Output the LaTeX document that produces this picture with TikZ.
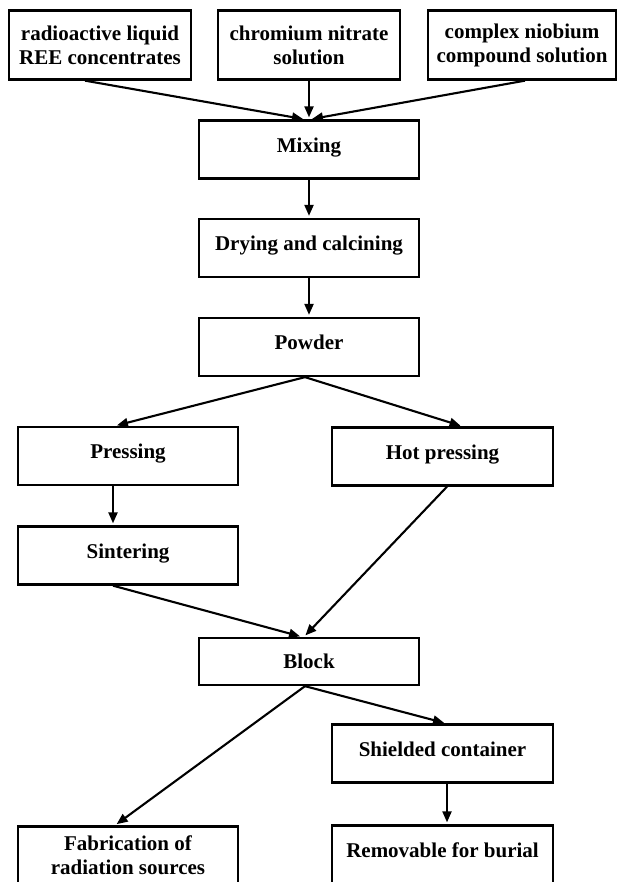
\documentclass[tikz,border=0pt]{standalone}
\usepackage{fontspec}
\setmainfont{Liberation Serif}
\usetikzlibrary{arrows.meta}

\begin{document}
\begin{tikzpicture}[x=1pt,y=-1pt,
        box/.style={draw,line width=2.3pt,align=center,inner sep=0pt,
            font=\bfseries\fontsize{21}{24}\selectfont},
        source/.style={box,minimum width=182pt,minimum height=69pt},
        stage/.style={box,minimum width=220pt,minimum height=58pt,text depth=9pt},
        flow/.style={-{Triangle[length=11pt,width=9pt]},line width=2.1pt,shorten >=2pt}]
            \useasboundingbox (0,0) rectangle (618,882);
            \node[source] (liquid) at (100,45) {radioactive liquid\\REE concentrates};
            \node[source] (nitrate) at (309,45) {chromium nitrate\\solution};
            \node[source,minimum width=188pt] (niobium) at (522,45) {complex niobium\\compound solution};
            \node[stage] (mix) at (309,149.5) {Mixing};
            \node[stage] (dry) at (309,248) {Drying and calcining};
            \node[stage] (powder) at (309,347) {Powder};
            \node[stage] (press) at (128,456) {Pressing};
            \node[stage,minimum width=221pt] (hot) at (442.5,456.5) {Hot pressing};
            \node[stage] (sinter) at (128,555.5) {Sintering};
            \node[stage,minimum height=47pt,text depth=0pt] (block) at (309,661.5) {Block};
            \node[stage,minimum width=221pt] (shield) at (442.5,753.5) {Shielded container};
            \node[stage,text depth=0pt] (fab) at (128,855.5) {Fabrication of\\radiation sources};
            \node[stage,minimum width=221pt] (burial) at (442.5,854.5) {Removable for burial};
            \draw[flow] ([xshift=-15pt]liquid.south) -- ([xshift=-4pt]mix.north);
            \draw[flow] (nitrate.south) -- (mix.north);
            \draw[flow] ([xshift=3pt]niobium.south) -- ([xshift=1pt]mix.north);
            \foreach \a/\b in {mix/dry, dry/powder}
                \draw[flow] (\a) -- (\b);
            \draw[flow] ([xshift=-4pt]powder.south) -- ([xshift=-13pt]press.north);
            \draw[flow] ([xshift=-4pt]powder.south) -- ([xshift=20pt]hot.north);
            \draw[flow] ([xshift=-15pt]press.south) -- ([xshift=-15pt]sinter.north);
            \draw[flow] ([xshift=-15pt]sinter.south) -- ([xshift=-7pt]block.north);
            \draw[flow] ([xshift=4.5pt]hot.south) -- ([xshift=-5pt]block.north);
            \draw[flow] ([xshift=-4pt]block.south) -- ([xshift=-13pt]fab.north);
            \draw[flow] ([xshift=-4pt]block.south) -- ([xshift=3.5pt]shield.north);
            \draw[flow] ([xshift=4.5pt]shield.south) -- ([xshift=4.5pt]burial.north);
        \end{tikzpicture}
\end{document}
